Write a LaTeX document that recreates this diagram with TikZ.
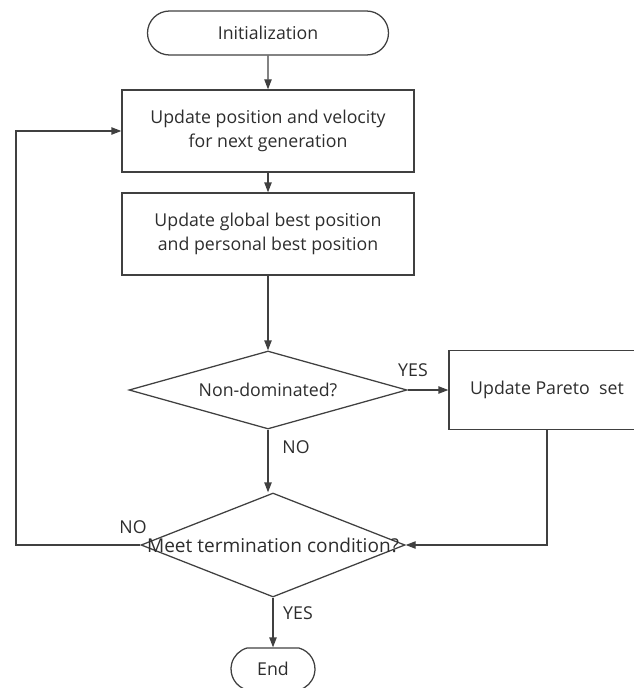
\documentclass[tikz,border=0pt]{standalone}
\usepackage{fontspec}
\setmainfont{Open Sans}
\usetikzlibrary{shapes.geometric,shapes.misc,arrows.meta}
\definecolor{linegray}{RGB}{64,64,64}
\definecolor{txtgray}{RGB}{45,45,45}

\begin{document}
\begin{tikzpicture}[x=0.75pt,y=0.75pt,yscale=-1,xscale=1,
  every node/.style={font=\fontsize{13.3}{18}\selectfont,text=txtgray,inner sep=0.75pt},
  line/.style={draw=linegray,line width=0.95pt},
  arrow/.style={line,-{Triangle[length=7.5pt,width=5.5pt]}},
  terminal/.style={line,rounded rectangle,align=center},
  process/.style={line,rectangle,align=center,minimum width=219pt,minimum height=61.5pt},
  decision/.style={line,diamond,inner sep=0pt}]
\useasboundingbox (0,0) rectangle (633,688);

%Terminator: start
\node [terminal,minimum width=182.25pt,minimum height=33pt] (init) at (268,33) {Initialization};
%Process boxes
\node [process] (move) at (268,131) {Update position and velocity\\for next generation};
\node [process] (best) at (268,234) {Update global best position\\and personal best position};
%Decision: dominance
\node [decision,minimum width=208.5pt,minimum height=58.5pt] (dom) at (268,390) {\makebox[0pt]{Non-dominated?}};
%Process: archive
\node [line,rectangle,minimum width=147pt,minimum height=59.25pt] (pareto) at (547,390) {Update Pareto\ \ set};
%Decision: stop
\node [decision,minimum width=198pt,minimum height=78pt] (stop) at (273,545) {\makebox[0pt]{\fontsize{14.3}{18}\selectfont Meet termination condition?}};
%Terminator: end
\node [terminal,minimum width=64.5pt,minimum height=31.5pt,rounded rectangle arc length=150] (end) at (273,669) {End};
\coordinate (loop) at (16,545);

%Connectors
\draw [arrow] (init) -- (move);
\draw [arrow] (move) -- (best);
\draw [arrow] (best) -- (dom);
\draw [arrow] (dom.east) -- (pareto.west);
\draw [arrow] (dom.south) -- (dom.south |- stop.north);
\draw [arrow] (pareto.south) |- (stop.east);
\draw [arrow] (stop.west) -- (loop) |- (move.west);
\draw [arrow] (stop.south) -- (end.north);

% Text Node
\node (yes1) at (413,370) {YES};
\node (no1) at (296,447) {NO};
\node (no2) at (133,527) {NO};
\node (yes2) at (298,613) {YES};

\end{tikzpicture}
\end{document}
